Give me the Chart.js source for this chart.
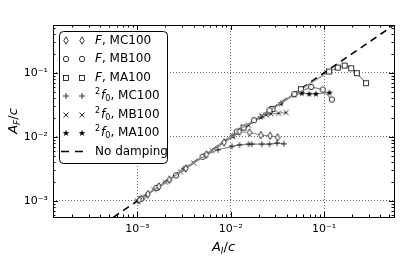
<!DOCTYPE html>
<html>
<head>
<meta charset="utf-8">
<script src="https://cdn.jsdelivr.net/npm/chart.js@4.4.0/dist/chart.umd.min.js"></script>
<style>
  html, body { margin: 0; padding: 0; background: #fff; }
</style>
</head>
<body>
<canvas id="chart" width="415" height="257"></canvas>
<script>
// F, MC100 (diamonds)
const mcF_x = [1.05e-3, 1.3e-3, 1.7e-3, 2.2e-3, 3.3e-3, 5.5e-3, 8.5e-3, 0.0124, 0.0159, 0.021, 0.0264, 0.0317];
const mcF_y = [1.03e-3, 1.28e-3, 1.68e-3, 2.15e-3, 3.2e-3, 5.3e-3, 8.2e-3, 0.0121, 0.0117, 0.0107, 0.0104, 0.0098];
// F, MB100 (circles)
const mbF_x = [1.1e-3, 1.6e-3, 2.6e-3, 5.0e-3, 0.0116, 0.0178, 0.026, 0.048, 0.0726, 0.0968, 0.121];
const mbF_y = [1.08e-3, 1.6e-3, 2.5e-3, 4.9e-3, 0.0121, 0.0182, 0.026, 0.0466, 0.0604, 0.0548, 0.0383];
// F, MA100 (squares)
const maF_x = [0.0137, 0.028, 0.0564, 0.113, 0.140, 0.166, 0.195, 0.224, 0.281];
const maF_y = [0.0140, 0.0274, 0.0556, 0.105, 0.121, 0.130, 0.118, 0.099, 0.069];
// 2f0, MC100 (plus)
const mc2_x = [1.02e-3, 1.25e-3, 1.65e-3, 2.2e-3, 3.13e-3, 5.2e-3, 7.3e-3, 0.0103, 0.0124, 0.0155, 0.0168, 0.0215, 0.026, 0.0312, 0.0371];
const mc2_y = [1.0e-3, 1.22e-3, 1.6e-3, 2.1e-3, 3.2e-3, 5.05e-3, 6.3e-3, 7.1e-3, 7.5e-3, 7.7e-3, 7.7e-3, 7.7e-3, 7.7e-3, 8.0e-3, 7.8e-3];
// 2f0, MB100 (x)
const mb2_x = [1.0e-3, 1.15e-3, 1.5e-3, 2.0e-3, 2.9e-3, 4.0e-3, 6.3e-3, 0.0105, 0.0155, 0.0215, 0.024, 0.0269, 0.0325, 0.0392];
const mb2_y = [1.0e-3, 1.13e-3, 1.5e-3, 1.95e-3, 2.85e-3, 3.9e-3, 6.1e-3, 0.0102, 0.0152, 0.0212, 0.0221, 0.0229, 0.0234, 0.024];
// 2f0, MA100 (stars)
const ma2_x = [0.0105, 0.021, 0.0345, 0.048, 0.0577, 0.0692, 0.0815, 0.114];
const ma2_y = [0.0104, 0.0205, 0.0335, 0.0455, 0.0482, 0.047, 0.047, 0.0492];
// no damping: A_F = A_I
const noDamp_x = [1e-4, 1];
const noDamp_y = [1e-4, 1];

const xTicks = [1e-3, 1e-2, 1e-1];
const yTicks = [1e-3, 1e-2, 1e-1];

const FONT = "'DejaVu Sans', sans-serif";

function pts(xs, ys) {
  return xs.map((x, i) => ({ x: x, y: ys[i] }));
}

// small canvases used as point styles
function marker(w, h, draw) {
  const c = document.createElement('canvas');
  c.width = w; c.height = h;
  const g = c.getContext('2d');
  g.strokeStyle = '#000';
  g.fillStyle = '#000';
  g.lineWidth = 0.8;
  draw(g, w, h);
  return c;
}
const mDiamond = marker(6, 9, (g) => {
  g.beginPath();
  g.moveTo(3, 0.8); g.lineTo(5.2, 4.5); g.lineTo(3, 8.2); g.lineTo(0.8, 4.5); g.closePath();
  g.fillStyle = '#fff'; g.fill(); g.stroke();
});
const mCircle = marker(8, 8, (g) => {
  g.beginPath(); g.arc(4, 4, 2.7, 0, Math.PI * 2);
  g.fillStyle = '#fff'; g.fill(); g.stroke();
});
const mSquare = marker(8, 8, (g) => {
  g.fillStyle = '#fff';
  g.fillRect(1.5, 1.5, 5, 5); g.strokeRect(1.5, 1.5, 5, 5);
});
const mPlus = marker(8, 8, (g) => {
  g.beginPath();
  g.moveTo(4, 1); g.lineTo(4, 7); g.moveTo(1, 4); g.lineTo(7, 4);
  g.stroke();
});
const mCross = marker(8, 8, (g) => {
  g.beginPath();
  g.moveTo(1.5, 1.5); g.lineTo(6.5, 6.5); g.moveTo(6.5, 1.5); g.lineTo(1.5, 6.5);
  g.stroke();
});
const mStar = marker(8, 8, (g) => {
  g.beginPath();
  for (let i = 0; i < 10; i++) {
    const r = i % 2 === 0 ? 3.4 : 1.4;
    const a = -Math.PI / 2 + i * Math.PI / 5;
    const px = 4 + r * Math.cos(a), py = 4.2 + r * Math.sin(a);
    if (i === 0) g.moveTo(px, py); else g.lineTo(px, py);
  }
  g.closePath(); g.fill();
});

function series(xs, ys, img) {
  return {
    data: pts(xs, ys),
    borderColor: '#8a8a8a',
    borderWidth: 1.2,
    pointStyle: img,
    pointRadius: 4,
    showLine: true,
    fill: false
  };
}

const SUP = { '-': '\u207B', '1': '\u00B9', '2': '\u00B2', '3': '\u00B3', '4': '\u2074', '0': '\u2070' };
function powLabel(v) {
  const e = Math.round(Math.log10(v));
  return '10' + String(e).split('').map(ch => SUP[ch]).join('');
}

// matplotlib style frame, inward ticks, legend and axis titles
const decor = {
  id: 'decor',
  afterDraw(chart) {
    const ctx = chart.ctx;
    const a = chart.chartArea;
    const xs = chart.scales.x, ys = chart.scales.y;
    ctx.save();
    ctx.strokeStyle = '#000';
    ctx.lineWidth = 1;
    ctx.strokeRect(Math.round(a.left) + 0.5, Math.round(a.top) + 0.5,
      Math.round(a.right - a.left), Math.round(a.bottom - a.top));

    // ticks
    for (let d = -5; d <= 1; d++) {
      for (let m = 1; m <= 9; m++) {
        const v = m * Math.pow(10, d);
        const len = m === 1 ? 5 : 2.5;
        if (v >= xs.min && v <= xs.max) {
          const px = Math.round(xs.getPixelForValue(v)) + 0.5;
          ctx.beginPath();
          ctx.moveTo(px, a.bottom); ctx.lineTo(px, a.bottom - len);
          ctx.moveTo(px, a.top); ctx.lineTo(px, a.top + len);
          ctx.stroke();
        }
        if (v >= ys.min && v <= ys.max) {
          const py = Math.round(ys.getPixelForValue(v)) + 0.5;
          ctx.beginPath();
          ctx.moveTo(a.left, py); ctx.lineTo(a.left + len, py);
          ctx.moveTo(a.right, py); ctx.lineTo(a.right - len, py);
          ctx.stroke();
        }
      }
    }

    // legend box
    const bx = 59.5, by = 31.5, bw = 108, bh = 132, r = 4;
    ctx.beginPath();
    ctx.moveTo(bx + r, by);
    ctx.arcTo(bx + bw, by, bx + bw, by + bh, r);
    ctx.arcTo(bx + bw, by + bh, bx, by + bh, r);
    ctx.arcTo(bx, by + bh, bx, by, r);
    ctx.arcTo(bx, by, bx + bw, by, r);
    ctx.closePath();
    ctx.fillStyle = '#fff';
    ctx.fill();
    ctx.stroke();

    const rows = [
      [mDiamond, 'F', 'MC100'],
      [mCircle, 'F', 'MB100'],
      [mSquare, 'F', 'MA100'],
      [mPlus, '2f0', 'MC100'],
      [mCross, '2f0', 'MB100'],
      [mStar, '2f0', 'MA100']
    ];
    ctx.fillStyle = '#000';
    ctx.textBaseline = 'middle';
    rows.forEach((row, i) => {
      const cy = 40.5 + i * 18.5;
      [66, 82].forEach(mx => {
        const img = row[0];
        ctx.drawImage(img, Math.round(mx - img.width / 2), Math.round(cy - img.height / 2));
      });
      let tx = 95;
      if (row[1] === 'F') {
        ctx.font = 'italic 12px ' + FONT;
        ctx.fillText('F', tx, cy);
        tx += ctx.measureText('F').width;
      } else {
        ctx.font = '8px ' + FONT;
        ctx.fillText('2', tx, cy - 4);
        tx += ctx.measureText('2').width + 1;
        ctx.font = 'italic 12px ' + FONT;
        ctx.fillText('f', tx, cy);
        tx += ctx.measureText('f').width;
        ctx.font = '8px ' + FONT;
        ctx.fillText('0', tx, cy + 3);
        tx += ctx.measureText('0').width;
      }
      ctx.font = '12px ' + FONT;
      ctx.fillText(', ' + row[2], tx, cy);
    });
    const ly = 40.5 + 6 * 18.5;
    ctx.save();
    ctx.setLineDash([8, 6]);
    ctx.lineWidth = 1.5;
    ctx.beginPath();
    ctx.moveTo(61, ly); ctx.lineTo(89, ly);
    ctx.stroke();
    ctx.restore();
    ctx.font = '12px ' + FONT;
    ctx.fillText('No damping', 95, ly);

    // axis titles  A_I / c  and  A_F / c
    function title(sub, cx, cy, rot) {
      ctx.save();
      ctx.translate(cx, cy);
      ctx.rotate(rot);
      ctx.font = 'italic 13px ' + FONT;
      const wA = ctx.measureText('A').width;
      ctx.font = 'italic 9px ' + FONT;
      const wS = ctx.measureText(sub).width;
      ctx.font = '13px ' + FONT;
      const wSl = ctx.measureText('/').width;
      ctx.font = 'italic 13px ' + FONT;
      const wC = ctx.measureText('c').width;
      let x = -(wA + wS + wSl + wC) / 2;
      ctx.textBaseline = 'alphabetic';
      ctx.font = 'italic 13px ' + FONT;
      ctx.fillText('A', x, 4); x += wA;
      ctx.font = 'italic 9px ' + FONT;
      ctx.fillText(sub, x, 7); x += wS;
      ctx.font = '13px ' + FONT;
      ctx.fillText('/', x, 4); x += wSl;
      ctx.font = 'italic 13px ' + FONT;
      ctx.fillText('c', x, 4);
      ctx.restore();
    }
    title('I', (a.left + a.right) / 2, 247, 0);
    title('F', 13, (a.top + a.bottom) / 2, -Math.PI / 2);
    ctx.restore();
  }
};

new Chart(document.getElementById('chart'), {
  type: 'scatter',
  data: {
    datasets: [
      series(mcF_x, mcF_y, mDiamond),
      series(mbF_x, mbF_y, mCircle),
      series(maF_x, maF_y, mSquare),
      series(mc2_x, mc2_y, mPlus),
      series(mb2_x, mb2_y, mCross),
      series(ma2_x, ma2_y, mStar),
      {
        data: pts(noDamp_x, noDamp_y),
        borderColor: '#000',
        borderWidth: 1.6,
        borderDash: [7, 5],
        pointRadius: 0,
        showLine: true,
        fill: false
      }
    ]
  },
  options: {
    responsive: false,
    animation: false,
    layout: { padding: { top: 25, right: 21, left: 0, bottom: 0 } },
    plugins: { legend: { display: false }, tooltip: { enabled: false } },
    scales: {
      x: {
        type: 'logarithmic',
        min: 1.25e-4,
        max: 0.56,
        afterBuildTicks: s => { s.ticks = xTicks.map(v => ({ value: v })); },
        afterFit: s => { s.height = 40; },
        ticks: {
          callback: v => powLabel(v),
          color: '#000',
          font: { family: FONT, size: 11 },
          padding: 6,
          maxRotation: 0,
          autoSkip: false
        },
        grid: { color: '#000', lineWidth: 0.6, drawTicks: false },
        border: { display: false, dash: [1, 2] }
      },
      y: {
        type: 'logarithmic',
        min: 5.6e-4,
        max: 0.56,
        afterBuildTicks: s => { s.ticks = yTicks.map(v => ({ value: v })); },
        afterFit: s => { s.width = 53; },
        ticks: {
          callback: v => powLabel(v),
          color: '#000',
          font: { family: FONT, size: 11 },
          padding: 5,
          autoSkip: false
        },
        grid: { color: '#000', lineWidth: 0.6, drawTicks: false },
        border: { display: false, dash: [1, 2] }
      }
    }
  },
  plugins: [decor]
});
</script>
</body>
</html>
